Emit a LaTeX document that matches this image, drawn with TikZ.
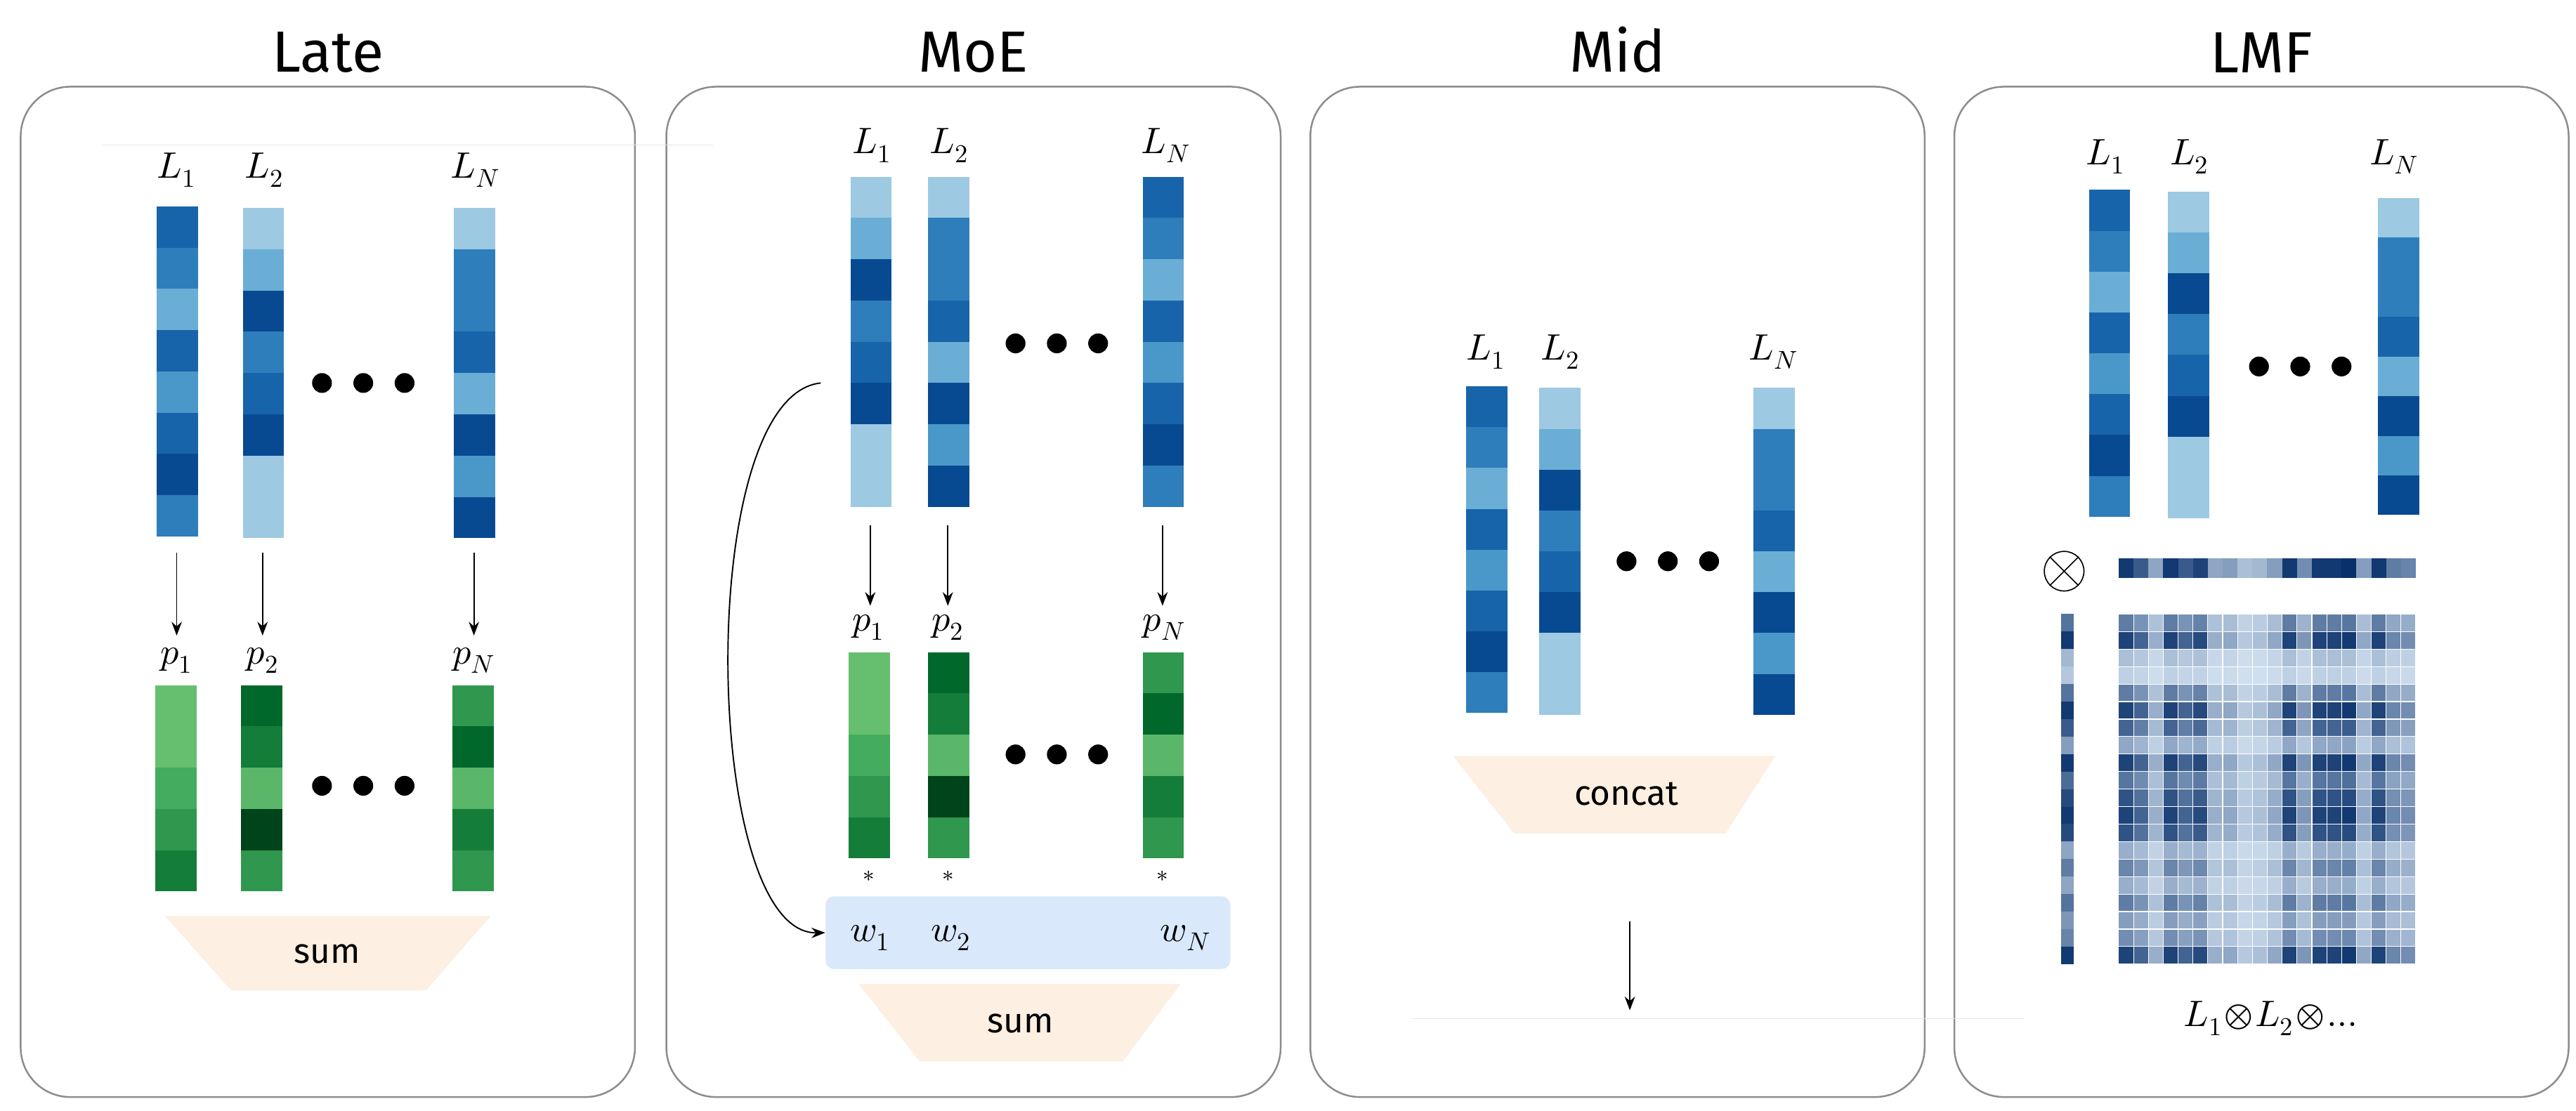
\documentclass[tikz,border=0pt]{standalone}
\usetikzlibrary{arrows.meta}
\usepackage{fontspec}
\setmainfont{Fira Sans}
\usepackage{unicode-math}
\setmathfont{Latin Modern Math}
\definecolor{b1}{HTML}{9DC9E2}
\definecolor{b2}{HTML}{6AAED6}
\definecolor{b3}{HTML}{4A98C9}
\definecolor{b4}{HTML}{2E7EBC}
\definecolor{b5}{HTML}{1764AB}
\definecolor{b6}{HTML}{084A91}
\definecolor{g1}{HTML}{66BF6E}
\definecolor{g2}{HTML}{43AC5E}
\definecolor{g3}{HTML}{2F974E}
\definecolor{g4}{HTML}{137D39}
\definecolor{g5}{HTML}{00682A}
\definecolor{g6}{HTML}{00441B}
\definecolor{g7}{HTML}{5AB769}
\definecolor{blight}{HTML}{DCEAF7}
\definecolor{bdark}{HTML}{08306B}
\definecolor{peach}{HTML}{FDEFE1}
\definecolor{wbox}{HTML}{DAE8FC}
\definecolor{frame}{HTML}{8C8C8C}
\newcommand\mybar[4]{% x, ytop, h, colors
  \foreach \c [count=\i] in {#4}{\fill[\c] (#1,{#2+(\i-1)*#3}) rectangle ++(25,#3);}}
\newcommand\mydots[2]{\foreach \k in {0,1,2}{\fill (#1+\k*25,#2) circle (6);}}
\tikzset{
  panel/.style={draw=frame,line width=0.9pt,rounded corners=9mm},
  title/.style={font=\fontsize{30}{34}\selectfont},
  lab/.style={font=\fontsize{19}{22}\selectfont},
  trap/.style={fill=peach},
  op/.style={font=\fontsize{18}{22}\selectfont},
  arr/.style={-{Stealth[length=2.5mm]},line width=0.7pt},
  faint/.style={draw=black!10,line width=0.4pt}
}
\begin{document}
\begin{tikzpicture}[x=0.3mm,y=-0.3mm]
\useasboundingbox (0,0) rectangle (1560,672.6);
% panels
\foreach \x/\n/\t in {12/pA/Late,403/pB/MoE,793/pC/Mid,1183/pD/LMF}{
  \node[panel,minimum width=111.6mm,minimum height=183.6mm,anchor=north west] (\n) at (\x,52) {};
  \node[title,anchor=south] (t\n) at ([yshift=1.2mm]\n.north) {\t};}
\draw[faint] (62,88) -- (432,88);
\draw[faint] (855,617) -- (1225,617);
% ===== Late
\mybar{95}{125}{25}{b5,b4,b2,b5,b3,b5,b6,b4}
\mybar{147}{126}{25}{b1,b2,b6,b4,b5,b6,b1,b1}
\mybar{275}{126}{25}{b1,b4,b4,b5,b2,b6,b3,b6}
\node[lab] (aL1) at (107,103) {$L_1$};
\node[lab] (aL2) at (160,103) {$L_2$};
\node[lab] (aLN) at (288,103) {$L_N$};
\mydots{195}{232}
\coordinate (aa1) at (107,335); \coordinate (ab1) at (107,385);
\coordinate (aa2) at (159,335); \coordinate (ab2) at (159,385);
\coordinate (aaN) at (287,335); \coordinate (abN) at (287,385);
\foreach \s in {1,2,N}{\draw[arr] (aa\s) -- (ab\s);}
\node[lab] (ap1) at (107,400) {$p_1$};
\node[lab] (ap2) at (159,400) {$p_2$};
\node[lab] (apN) at (287,400) {$p_N$};
\mybar{94}{415}{25}{g1,g1,g2,g3,g4}
\mybar{146}{415}{25}{g5,g4,g7,g6,g3}
\mybar{274}{415}{25}{g3,g5,g7,g4,g3}
\mydots{195}{476}
\fill[trap] (100,555) -- (297,555) -- (258,600) -- (140,600) -- cycle;
\node[op] (asum) at (198,578) {sum};
% ===== MoE
\mybar{515}{107}{25}{b1,b2,b6,b4,b5,b6,b1,b1}
\mybar{562}{107}{25}{b1,b4,b4,b5,b2,b6,b3,b6}
\mybar{692}{107}{25}{b5,b4,b2,b5,b3,b5,b6,b4}
\node[lab] (bL1) at (528,88) {$L_1$};
\node[lab] (bL2) at (575,88) {$L_2$};
\node[lab] (bLN) at (706,88) {$L_N$};
\mydots{615}{208}
\coordinate (ba1) at (527,318); \coordinate (bb1) at (527,367);
\coordinate (ba2) at (574,318); \coordinate (bb2) at (574,367);
\coordinate (baN) at (704,318); \coordinate (bbN) at (704,367);
\foreach \s in {1,2,N}{\draw[arr] (ba\s) -- (bb\s);}
\node[lab] (bp1) at (526,380) {$p_1$};
\node[lab] (bp2) at (574,380) {$p_2$};
\node[lab] (bpN) at (705,380) {$p_N$};
\mybar{514}{395}{25}{g1,g1,g2,g3,g4}
\mybar{562}{395}{25}{g5,g4,g7,g6,g3}
\mybar{692}{395}{25}{g3,g5,g7,g4,g3}
\mydots{615}{457}
\foreach \x in {526,574,704}{\node[font=\fontsize{12}{12}\selectfont] at (\x,531) {$*$};}
\node[fill=wbox,rounded corners=1.5mm,minimum width=73.5mm,minimum height=13.2mm] (bw) at (622.5,565) {};
\node[lab] (bw1) at (527,568) {$w_1$};
\node[lab] (bw2) at (576,568) {$w_2$};
\node[lab] (bwN) at (718,568) {$w_N$};
\fill[trap] (520,596) -- (715,596) -- (680,643) -- (557,643) -- cycle;
\node[op] (bsum) at (618,620) {sum};
\coordinate (bstart) at (497,232);
\draw[arr] (bstart) .. controls (420,240) and (425,566) .. (bw.west);
% ===== Mid
\mybar{888}{234}{24.75}{b5,b4,b2,b5,b3,b5,b6,b4}
\mybar{932}{235}{24.75}{b1,b2,b6,b4,b5,b6,b1,b1}
\mybar{1062}{235}{24.75}{b1,b4,b4,b5,b2,b6,b3,b6}
\node[lab] (cL1) at (900,213) {$L_1$};
\node[lab] (cL2) at (945,213) {$L_2$};
\node[lab] (cLN) at (1074,213) {$L_N$};
\mydots{985}{340}
\fill[trap] (880,458) -- (1075,458) -- (1045,505) -- (917,505) -- cycle;
\node[op] (cconcat) at (985,481) {concat};
\coordinate (ca) at (987,558); \coordinate (cb) at (987,612);
\draw[arr] (ca) -- (cb);
% ===== LMF
\mybar{1265}{115}{24.75}{b5,b4,b2,b5,b3,b5,b6,b4}
\mybar{1313}{116}{24.75}{b1,b2,b6,b4,b5,b6,b1,b1}
\mybar{1440}{120}{24}{b1,b4,b4,b5,b2,b6,b3,b6}
\node[lab] (dL1) at (1275,95) {$L_1$};
\node[lab] (dL2) at (1326,95) {$L_2$};
\node[lab] (dLN) at (1450,95) {$L_N$};
\mydots{1368}{222}
\node[circle,draw,line width=0.6pt,minimum size=7.2mm,inner sep=0pt] (dot) at (1250,346) {};
\draw[line width=0.6pt] (dot.north west) -- (dot.south east) (dot.north east) -- (dot.south west);
\def\rowv{0.95,0.75,0.3,0.95,0.75,0.9,0.3,0.35,0.15,0.2,0.35,0.95,0.45,0.95,0.95,1.0,0.35,0.95,0.55,0.5}
\def\colv{0.6,0.95,0.2,0.1,0.6,0.95,0.75,0.35,0.95,0.65,0.85,0.95,0.85,0.3,0.55,0.3,0.6,0.4,0.5,0.95}
\foreach \r [count=\j] in \rowv{
  \pgfmathtruncatemacro\p{10+90*\r}
  \fill[bdark!\p!blight] ({1283+(\j-1)*9},338) rectangle ++(9,12);}
\foreach \c [count=\i] in \colv{
  \pgfmathtruncatemacro\p{10+90*\c}
  \fill[bdark!\p!blight] (1248,{372+(\i-1)*10.6}) rectangle ++(8,10.6);
  \foreach \r [count=\j] in \rowv{
    \pgfmathtruncatemacro\q{5+95*\r*\c}
    \fill[bdark!\q!blight,draw=white,line width=0.4pt] ({1283+(\j-1)*9},{372+(\i-1)*10.6}) rectangle ++(9,10.6);}}
\node[lab] (dres) at (1375,617) {$L_1\!\otimes\! L_2\!\otimes\!\ldots$};
\end{tikzpicture}
\end{document}
